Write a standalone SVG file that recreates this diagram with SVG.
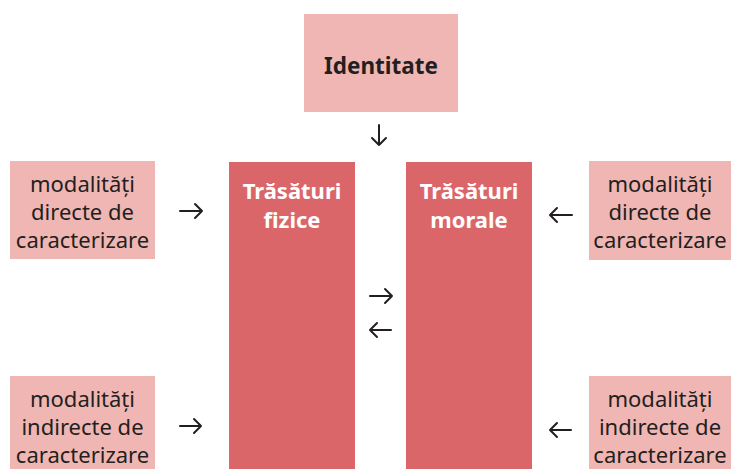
<svg xmlns="http://www.w3.org/2000/svg" width="731" height="469" viewBox="0 0 731 469">
<style>
.light{fill:#f0b6b3}
.dark{fill:#db666a}
.t{font-family:"Noto Sans","Liberation Sans",sans-serif;font-size:22px;fill:#231f20;text-anchor:middle}
.b{font-weight:bold}
.w{fill:#ffffff}
.arr{fill:none;stroke:#231f20;stroke-width:2;stroke-linecap:round;stroke-linejoin:round}
</style>
<rect width="731" height="469" fill="#ffffff"/>
<g id="identitate">
<rect class="light" x="304" y="14" width="154" height="98"/>
<text class="t b" x="381" y="74" style="font-size:22.5px">Identitate</text>
</g>
<g id="fizice">
<rect class="dark" x="229" y="162" width="126" height="307"/>
<text class="t b w" x="292" y="199">Trăsături</text>
<text class="t b w" x="292" y="228">fizice</text>
</g>
<g id="morale">
<rect class="dark" x="406" y="162" width="126" height="307"/>
<text class="t b w" x="469" y="199">Trăsături</text>
<text class="t b w" x="469" y="228">morale</text>
</g>
<g id="directe-stanga">
<rect class="light" x="10" y="161" width="145" height="98"/>
<text class="t" x="82.5" y="192">modalități</text>
<text class="t" x="82.5" y="220">directe de</text>
<text class="t" x="82.5" y="248">caracterizare</text>
</g>
<g id="indirecte-stanga">
<rect class="light" x="10" y="376" width="145" height="93"/>
<text class="t" x="82.5" y="407">modalități</text>
<text class="t" x="82.5" y="435">indirecte de</text>
<text class="t" x="82.5" y="463">caracterizare</text>
</g>
<g id="directe-dreapta">
<rect class="light" x="589" y="161" width="142" height="99"/>
<text class="t" x="660" y="192">modalități</text>
<text class="t" x="660" y="220">directe de</text>
<text class="t" x="660" y="248">caracterizare</text>
</g>
<g id="indirecte-dreapta">
<rect class="light" x="589" y="376" width="142" height="93"/>
<text class="t" x="660" y="407">modalități</text>
<text class="t" x="660" y="435">indirecte de</text>
<text class="t" x="660" y="463">caracterizare</text>
</g>
<g id="connectors">
<path class="arr" d="M379 125V145M372 138L379 145L386 138"/>
<path class="arr" d="M180 211H202M195 204L202 211L195 218"/>
<path class="arr" d="M180 426H201M194 419L201 426L194 433"/>
<path class="arr" d="M572 215H550M557 208L550 215L557 222"/>
<path class="arr" d="M571 430H550M557 423L550 430L557 437"/>
<path class="arr" d="M370 296H392M385 289L392 296L385 303"/>
<path class="arr" d="M391 330H370M377 323L370 330L377 337"/>
</g>
</svg>
